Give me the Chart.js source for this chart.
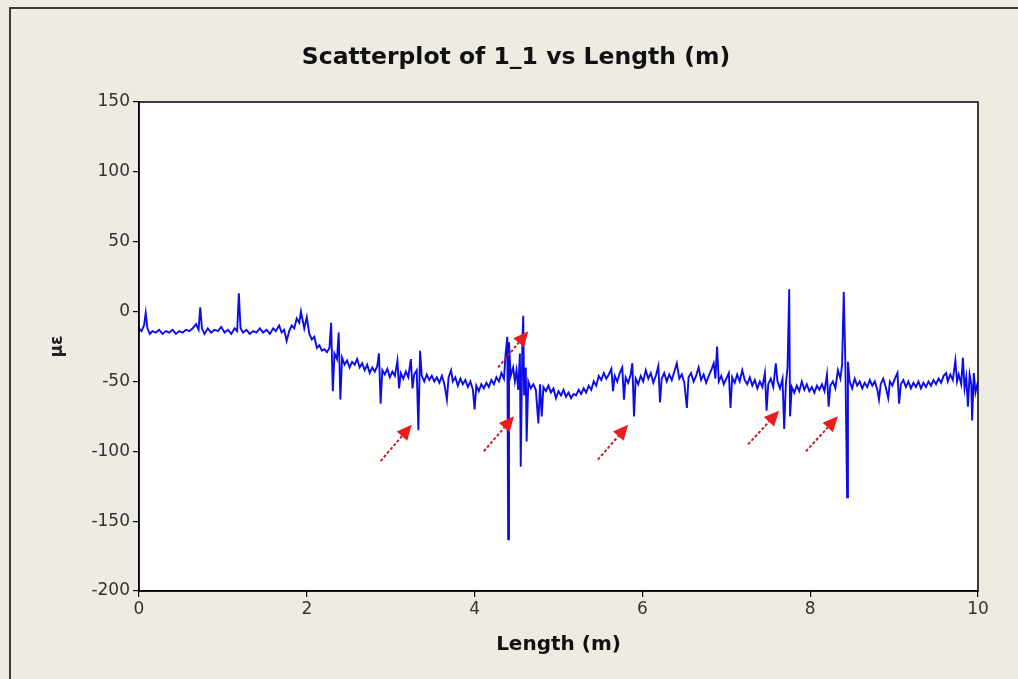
<!DOCTYPE html>
<html>
<head>
<meta charset="utf-8">
<script src="https://cdn.jsdelivr.net/npm/chart.js@4/dist/chart.umd.min.js"></script>
<style>
html,body{margin:0;padding:0;background:#eeebe3;}
canvas{display:block;}
</style>
</head>
<body>
<canvas id="c" width="1018" height="679"></canvas>
<script>
// Length along the specimen (m)
const lengthM = [
0.00,0.03,0.06,0.08,0.10,0.13,0.16,0.20,0.24,0.28,0.32,0.36,0.40,0.44,0.48,0.52,0.56,0.60,0.64,0.68,
0.71,0.73,0.75,0.78,0.82,0.86,0.90,0.94,0.98,1.02,1.06,1.10,1.14,1.17,1.19,1.21,1.24,1.28,1.32,1.36,
1.40,1.44,1.48,1.52,1.56,1.60,1.63,1.67,1.70,1.73,1.76,1.79,1.82,1.85,1.88,1.91,1.93,1.95,1.97,2.00,
2.03,2.06,2.09,2.12,2.15,2.18,2.21,2.24,2.27,2.29,2.31,2.33,2.36,2.38,2.40,2.42,2.45,2.48,2.51,2.54,
2.57,2.60,2.63,2.66,2.69,2.72,2.75,2.78,2.81,2.84,2.86,2.88,2.90,2.93,2.96,2.99,3.02,3.05,3.08,3.10,
3.12,3.15,3.18,3.21,3.24,3.26,3.28,3.31,3.33,3.35,3.37,3.40,3.43,3.46,3.49,3.52,3.55,3.58,3.61,3.64,
3.67,3.69,3.72,3.74,3.77,3.80,3.83,3.86,3.89,3.92,3.95,3.98,4.00,4.02,4.05,4.08,4.11,4.14,4.17,4.20,
4.23,4.26,4.29,4.32,4.35,4.37,4.39,4.40,4.41,4.43,4.46,4.48,4.50,4.52,4.54,4.55,4.57,4.58,4.59,4.61,
4.62,4.64,4.67,4.70,4.73,4.76,4.78,4.80,4.82,4.85,4.88,4.91,4.94,4.97,5.00,5.03,5.06,5.09,5.12,5.15,
5.18,5.21,5.24,5.27,5.30,5.33,5.36,5.39,5.42,5.45,5.48,5.51,5.54,5.57,5.60,5.63,5.65,5.67,5.70,5.73,
5.76,5.78,5.80,5.83,5.86,5.88,5.90,5.92,5.95,5.98,6.01,6.04,6.07,6.10,6.13,6.16,6.19,6.21,6.23,6.26,
6.29,6.32,6.35,6.38,6.41,6.44,6.47,6.50,6.53,6.55,6.58,6.61,6.64,6.67,6.70,6.73,6.76,6.79,6.82,6.85,
6.87,6.89,6.91,6.94,6.97,7.00,7.03,7.05,7.07,7.10,7.13,7.16,7.19,7.22,7.25,7.28,7.31,7.34,7.37,7.40,
7.43,7.46,7.48,7.50,7.53,7.56,7.59,7.61,7.64,7.67,7.69,7.71,7.73,7.75,7.76,7.78,7.81,7.84,7.87,7.90,
7.93,7.96,7.99,8.02,8.05,8.08,8.11,8.14,8.17,8.20,8.22,8.24,8.27,8.30,8.33,8.36,8.38,8.40,8.42,8.44,
8.45,8.47,8.50,8.53,8.56,8.59,8.62,8.65,8.68,8.71,8.74,8.77,8.80,8.82,8.84,8.87,8.90,8.93,8.95,8.98,
9.01,9.04,9.06,9.08,9.11,9.14,9.17,9.20,9.23,9.26,9.29,9.32,9.35,9.38,9.41,9.44,9.47,9.50,9.53,9.56,
9.59,9.62,9.64,9.67,9.70,9.73,9.75,9.77,9.80,9.82,9.84,9.86,9.88,9.90,9.92,9.93,9.95,9.97,10.00
];
// Strain 1_1 (micro-strain)
const strain11 = [
-12,-14,-10,-1,-12,-16,-14,-15,-13,-16,-14,-15,-13,-16,-14,-15,-13,-14,-12,-9,
-13,3,-12,-16,-12,-15,-13,-14,-11,-15,-13,-16,-12,-14,13,-12,-15,-13,-16,-14,
-15,-12,-15,-13,-16,-12,-14,-10,-15,-13,-21,-14,-10,-12,-5,-8,0,-6,-12,-4,
-16,-20,-18,-26,-24,-28,-27,-29,-26,-8,-57,-30,-34,-15,-63,-33,-38,-35,-40,-36,
-38,-34,-40,-37,-42,-38,-44,-40,-43,-39,-30,-66,-42,-45,-41,-47,-43,-46,-35,-55,
-44,-48,-43,-47,-34,-55,-45,-42,-85,-28,-46,-50,-45,-49,-46,-50,-47,-51,-46,-52,
-63,-47,-42,-50,-47,-53,-48,-52,-49,-54,-50,-56,-70,-53,-57,-52,-55,-51,-54,-49,
-52,-47,-50,-44,-48,-30,-18,-163,-22,-46,-40,-50,-42,-56,-30,-111,-20,-3,-60,-40,
-93,-50,-55,-52,-56,-80,-52,-75,-54,-57,-53,-58,-55,-62,-57,-60,-56,-61,-58,-62,
-59,-60,-56,-59,-55,-58,-53,-56,-50,-53,-46,-49,-44,-48,-45,-41,-57,-46,-50,-44,
-40,-63,-47,-51,-45,-37,-75,-48,-52,-46,-50,-42,-48,-44,-51,-46,-39,-65,-48,-44,
-50,-45,-49,-43,-37,-48,-45,-51,-69,-47,-44,-50,-46,-40,-49,-45,-51,-46,-42,-37,
-48,-25,-50,-46,-52,-48,-44,-69,-47,-51,-45,-50,-42,-49,-52,-47,-53,-49,-55,-50,
-54,-44,-71,-52,-48,-54,-37,-50,-55,-48,-84,-52,-40,16,-75,-54,-58,-53,-57,-50,
-56,-52,-57,-54,-58,-53,-56,-52,-57,-45,-68,-53,-50,-55,-42,-48,-38,14,-40,-133,
-36,-50,-55,-48,-53,-50,-55,-51,-54,-49,-53,-50,-56,-63,-52,-48,-54,-62,-50,-53,
-48,-44,-66,-52,-49,-54,-50,-55,-51,-54,-50,-55,-51,-54,-50,-53,-49,-52,-48,-51,
-46,-44,-50,-45,-49,-35,-50,-45,-52,-33,-55,-47,-68,-45,-52,-78,-44,-58,-50
];
const xTicks = [0, 2, 4, 6, 8, 10];
const yTicks = [-200, -150, -100, -50, 0, 50, 100, 150];
// Red annotation arrows (data units): tail -> head
const arrowTailX = [2.88, 4.11, 4.28, 5.47, 7.26, 7.95];
const arrowTailY = [-107, -100, -40, -106, -95, -100];
const arrowHeadX = [3.25, 4.47, 4.64, 5.83, 7.63, 8.33];
const arrowHeadY = [-81, -75, -14, -81, -71, -75];

const points = lengthM.map((x, i) => ({x: x, y: strain11[i]}));

const frame = {
  id: 'frame',
  beforeDraw(chart) {
    const c = chart.ctx, a = chart.chartArea;
    c.save();
    c.fillStyle = '#eeebe3';
    c.fillRect(0, 0, chart.width, chart.height);
    c.strokeStyle = '#3a3a3a';
    c.lineWidth = 2;
    c.beginPath();
    c.moveTo(10, chart.height + 5);
    c.lineTo(10, 8);
    c.lineTo(chart.width + 5, 8);
    c.stroke();
    c.fillStyle = '#ffffff';
    c.fillRect(a.left, a.top, a.right - a.left, a.bottom - a.top);
    c.restore();
  },
  afterDraw(chart) {
    const c = chart.ctx, a = chart.chartArea;
    const xs = chart.scales.x, ys = chart.scales.y;
    c.save();
    c.strokeStyle = '#000';
    c.lineWidth = 1.5;
    c.strokeRect(a.left, a.top, a.right - a.left, a.bottom - a.top);
    for (let i = 0; i < arrowTailX.length; i++) {
      const x0 = xs.getPixelForValue(arrowTailX[i]), y0 = ys.getPixelForValue(arrowTailY[i]);
      const x1 = xs.getPixelForValue(arrowHeadX[i]), y1 = ys.getPixelForValue(arrowHeadY[i]);
      const ang = Math.atan2(y1 - y0, x1 - x0);
      const hl = 15, hw = 7;
      const bx = x1 - hl * Math.cos(ang), by = y1 - hl * Math.sin(ang);
      c.strokeStyle = '#c42222';
      c.lineWidth = 2;
      c.setLineDash([3, 2]);
      c.beginPath();
      c.moveTo(x0, y0);
      c.lineTo(bx, by);
      c.stroke();
      c.setLineDash([]);
      c.fillStyle = '#ec1c1c';
      c.beginPath();
      c.moveTo(x1, y1);
      c.lineTo(bx + hw * Math.sin(ang), by - hw * Math.cos(ang));
      c.lineTo(bx - hw * Math.sin(ang), by + hw * Math.cos(ang));
      c.closePath();
      c.fill();
    }
    c.restore();
  }
};

new Chart(document.getElementById('c').getContext('2d'), {
  type: 'scatter',
  data: {
    datasets: [{
      label: '1_1',
      data: points,
      showLine: true,
      borderColor: '#0c0ce8',
      backgroundColor: '#0c0ce8',
      borderWidth: 1.9,
      pointRadius: 0,
      tension: 0
    }]
  },
  options: {
    responsive: false,
    animation: false,
    events: [],
    layout: { padding: { left: 54, right: 40, top: 0, bottom: 0 } },
    plugins: {
      legend: { display: false },
      tooltip: { enabled: false },
      title: {
        display: true,
        text: 'Scatterplot of 1_1 vs Length (m)',
        color: '#111',
        font: { family: 'DejaVu Sans', size: 23.5, weight: 'bold', lineHeight: 1.2 },
        padding: { top: 44, bottom: 29.8 }
      }
    },
    scales: {
      x: {
        type: 'linear',
        min: 0, max: 10,
        afterBuildTicks(s) { s.ticks = xTicks.map(v => ({value: v})); },
        afterFit(s) { s.height = 88; },
        ticks: { color: '#333', font: { family: 'DejaVu Sans', size: 17 }, padding: 2, maxRotation: 0 },
        grid: { drawOnChartArea: false, tickLength: 6, color: '#000', lineWidth: 1.2 },
        border: { color: '#000', width: 1.5 },
        title: {
          display: true, text: 'Length (m)', color: '#111',
          font: { family: 'DejaVu Sans', size: 20, weight: 'bold', lineHeight: 1.2 },
          padding: { top: 0, bottom: 22 }
        }
      },
      y: {
        type: 'linear',
        min: -200, max: 150,
        afterBuildTicks(s) { s.ticks = yTicks.map(v => ({value: v})); },
        afterFit(s) { s.width = 85; },
        ticks: { color: '#333', font: { family: 'DejaVu Sans', size: 17 }, padding: 3 },
        grid: { drawOnChartArea: false, tickLength: 6, color: '#000', lineWidth: 1.2 },
        border: { color: '#000', width: 1.5 },
        title: {
          display: true, text: 'με', color: '#222',
          font: { family: 'DejaVu Sans', size: 17, weight: 'bold', lineHeight: 1.2 },
          padding: { top: -7, bottom: 0 }
        }
      }
    }
  },
  plugins: [frame]
});
</script>
</body>
</html>
